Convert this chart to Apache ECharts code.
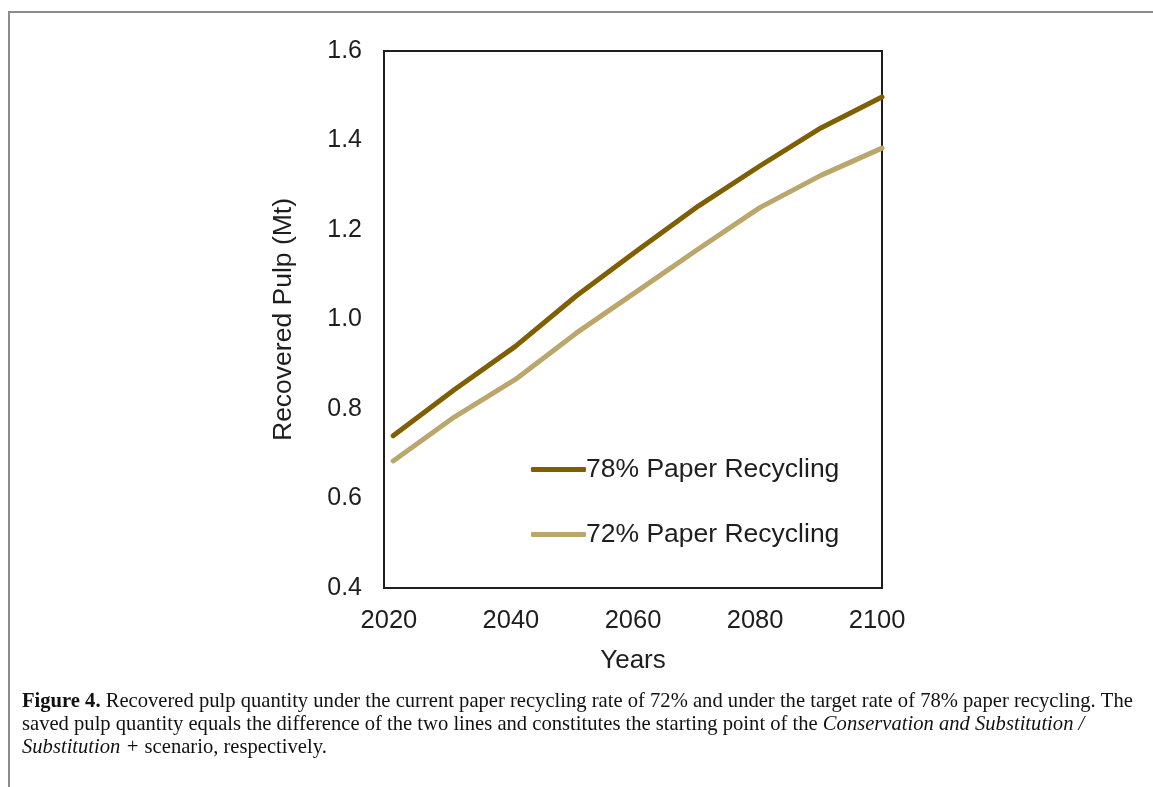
<!DOCTYPE html>
<html>
<head>
<meta charset="utf-8">
<title>Recovered pulp quantity</title>
<script src="https://cdn.jsdelivr.net/npm/echarts@6/dist/echarts.min.js"></script>
<style>
  html, body { margin: 0; padding: 0; background: #fff; }
  #chart { width: 1153px; height: 787px; }
</style>
</head>
<body>
<div id="chart"></div>
<script>
// Years of the projection (decadal steps)
const years = [2020, 2030, 2040, 2050, 2060, 2070, 2080, 2090, 2100];
// Recovered pulp, Mt
const pulp78 = [0.740, 0.843, 0.940, 1.053, 1.155, 1.254, 1.343, 1.428, 1.497];
const pulp72 = [0.684, 0.782, 0.866, 0.970, 1.064, 1.158, 1.250, 1.322, 1.383];
// Axis tick labels
const xTicks = [2020, 2040, 2060, 2080, 2100];
const yTicks = [0.4, 0.6, 0.8, 1.0, 1.2, 1.4, 1.6];

const seriesNames = ['78% Paper Recycling', '72% Paper Recycling'];
const seriesColors = ['#7F5F00', '#BBA66B'];

const textColor = '#1e1e1e';
const sans = 'Liberation Sans, Arial, sans-serif';
const serif = 'Liberation Serif, Times New Roman, serif';

const chart = echarts.init(document.getElementById('chart'), null, { renderer: 'canvas' });

const axisLineStyle = { color: '#1e1e1e', width: 2 };

const option = {
  backgroundColor: '#fff',
  animation: false,
  grid: {
    left: 384, top: 51, right: 271, bottom: 199,
    show: true, borderColor: '#1e1e1e', borderWidth: 2, backgroundColor: 'transparent'
  },
  legend: {
    left: 526, top: 451,
    orient: 'vertical',
    itemWidth: 55, itemHeight: 5, itemGap: 38,
    icon: 'roundRect',
    data: seriesNames,
    textStyle: { fontFamily: sans, fontSize: 26.5, color: textColor, padding: [0, 0, 0, -5] }
  },
  xAxis: [
    {
      // data axis: the years the series are plotted against
      type: 'value',
      min: 2018.5, max: 2100,
      axisLine: { show: true, lineStyle: axisLineStyle },
      axisTick: { show: false },
      splitLine: { show: false },
      axisLabel: { show: false }
    },
    {
      // labelling axis: decade labels and the axis title
      type: 'value',
      position: 'bottom',
      min: 2019.2, max: 2100.8,
      name: 'Years',
      nameLocation: 'middle',
      nameGap: 60,
      nameTextStyle: { fontFamily: sans, fontSize: 26, color: textColor },
      axisLine: { show: false },
      axisTick: { show: false },
      splitLine: { show: false },
      axisLabel: {
        customValues: xTicks,
        margin: 20,
        fontFamily: sans, fontSize: 25.5, color: textColor,
        formatter: v => String(v)
      }
    }
  ],
  yAxis: {
    type: 'value',
    min: yTicks[0], max: yTicks[yTicks.length - 1], interval: 0.2,
    name: 'Recovered Pulp (Mt)',
    nameLocation: 'middle',
    nameGap: 87,
    nameTextStyle: { fontFamily: sans, fontSize: 26.5, color: textColor },
    axisLine: { show: true, lineStyle: axisLineStyle },
    axisTick: { show: false },
    splitLine: { show: false },
    axisLabel: {
      margin: 22,
      fontFamily: sans, fontSize: 25, color: textColor,
      formatter: v => v.toFixed(1)
    }
  },
  series: seriesNames.map((name, i) => ({
    name,
    type: 'line',
    xAxisIndex: 0,
    data: years.map((y, k) => [y, (i === 0 ? pulp78 : pulp72)[k]]),
    showSymbol: false,
    symbol: 'none',
    lineStyle: { color: seriesColors[i], width: 5, cap: 'round', join: 'round' },
    itemStyle: { color: seriesColors[i] }
  })),
  graphic: [
    {
      type: 'rect',
      shape: { x: 9, y: 12, width: 1300, height: 900 },
      style: { fill: 'none', stroke: '#8c8c8c', lineWidth: 2 },
      silent: true
    },
    {
      type: 'text',
      left: 22, top: 690,
      style: {
        text: '{b|Figure 4.} Recovered pulp quantity under the current paper recycling rate of 72% and under the target rate of 78% paper recycling. The\n' +
              'saved pulp quantity equals the difference of the two lines and constitutes the starting point of the {i|Conservation and Substitution /}\n' +
              '{i|Substitution +} scenario, respectively.',
        font: '20.6px ' + serif,
        fill: '#111',
        lineHeight: 23,
        rich: {
          b: { fontWeight: 'bold', fontFamily: serif, fontSize: 20.6, fill: '#111', lineHeight: 23 },
          i: { fontStyle: 'italic', fontFamily: serif, fontSize: 20.6, fill: '#111', lineHeight: 23 }
        }
      }
    }
  ]
};

chart.setOption(option);
</script>
</body>
</html>
